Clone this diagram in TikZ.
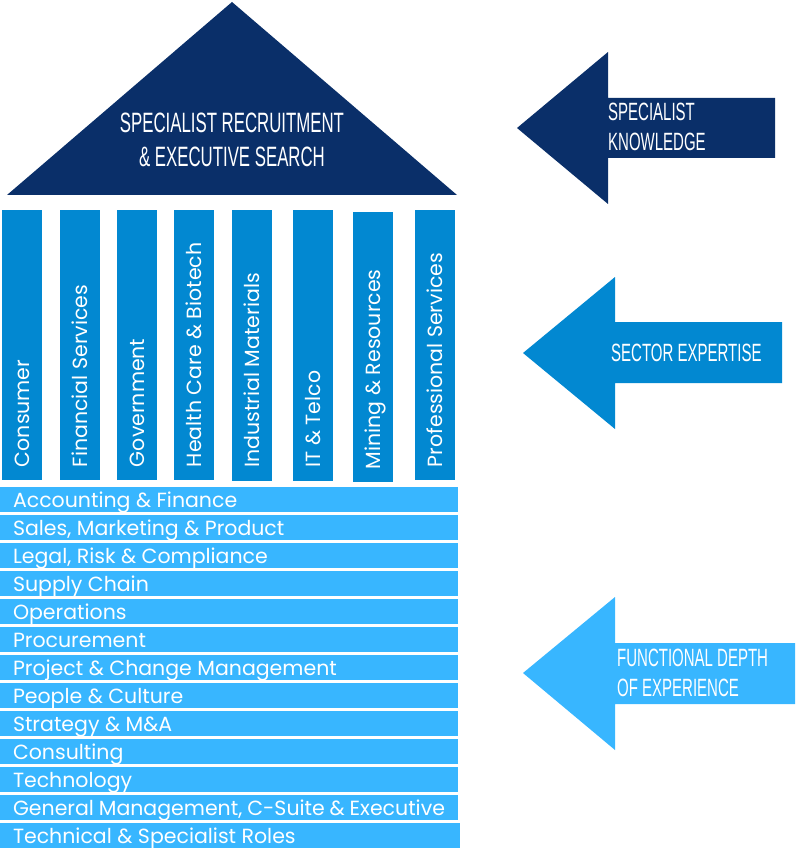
\documentclass[tikz,border=0pt]{standalone}
\usepackage{fontspec}
\setmainfont{Poppins}
\newfontfamily\condfont[FakeStretch=0.6]{Liberation Sans}
\definecolor{navy}{HTML}{0A2F69}
\definecolor{sectorblue}{HTML}{0288D1}
\definecolor{skyblue}{HTML}{38B6FF}
\begin{document}
\begin{tikzpicture}[x=1pt,y=-1pt,
roof_style/.style={fill=navy},
pillar_style/.style={fill=sectorblue,text=white,rotate=90,inner sep=0pt,inner xsep=13pt,minimum width=270pt,minimum height=40pt,text width=244pt,text height=19pt,text depth=4pt,align=flush left,font=\fontsize{20.5}{24}\selectfont},
row_style/.style={fill=skyblue,text=white,inner sep=0pt,inner xsep=13pt,minimum width=458pt,minimum height=25pt,text width=432pt,text height=19pt,text depth=4pt,align=flush left,font=\fontsize{20.5}{24}\selectfont},
head_style/.style={text=white,inner sep=0pt,align=left,font=\condfont\fontsize{25}{30}\selectfont}]
\useasboundingbox (0,0) rectangle (795,850);

% roof
\fill[roof_style] (7,195) -- (232,2) -- (457,195) -- cycle;
\node[head_style,align=center,font=\condfont\fontsize{28}{34}\selectfont] (roof) at (232,140) {SPECIALIST RECRUITMENT\\\& EXECUTIVE SEARCH};

% pillars
\node[pillar_style] (p1) at (21.5,345) {Consumer};
\node[pillar_style] (p2) at (80,345) {Financial Services};
\node[pillar_style] (p3) at (137,345) {Government};
\node[pillar_style] (p4) at (194,345) {Health Care \& Biotech};
\node[pillar_style] (p5) at (251.5,345.5) {Industrial Materials};
\node[pillar_style] (p6) at (313,345.5) {IT \& Telco};
\node[pillar_style] (p7) at (373,347) {Mining \& Resources};
\node[pillar_style] (p8) at (434.5,345) {Professional Services};

% rows
\node[row_style] (r1) at (229,499.5) {Accounting \& Finance};
\node[row_style] (r2) at (229,527.5) {Sales, Marketing \& Product};
\node[row_style] (r3) at (229,555.5) {Legal, Risk \& Compliance};
\node[row_style] (r4) at (229,583.5) {Supply Chain};
\node[row_style] (r5) at (229,611.5) {Operations};
\node[row_style] (r6) at (229,639.5) {Procurement};
\node[row_style] (r7) at (229,667.5) {Project \& Change Management};
\node[row_style] (r8) at (229,695.5) {People \& Culture};
\node[row_style] (r9) at (229,723.5) {Strategy \& M\&A};
\node[row_style] (r10) at (229,751.5) {Consulting};
\node[row_style] (r11) at (229,779.5) {Technology};
\node[row_style] (r12) at (229,807.5) {General Management, C-Suite \& Executive};
\node[row_style,minimum width=460pt,text width=434pt] (r13) at (230,835.5) {Technical \& Specialist Roles};

% arrows
\fill[navy] (517,128) -- (608,52) -- (608,98) -- (775,98) -- (775,158) -- (608,158) -- (608,204) -- cycle;
\node[head_style,anchor=west] (a1) at (608,127) {SPECIALIST\\KNOWLEDGE};
\fill[sectorblue] (523,353) -- (615,277) -- (615,322) -- (782,322) -- (782,383) -- (615,383) -- (615,429) -- cycle;
\node[head_style,anchor=west] (a2) at (611,353) {SECTOR EXPERTISE};
\fill[skyblue] (523,673) -- (615,597) -- (615,643) -- (795,643) -- (795,704) -- (615,704) -- (615,750) -- cycle;
\node[head_style,anchor=west] (a3) at (617,673) {FUNCTIONAL DEPTH\\OF EXPERIENCE};
\end{tikzpicture}
\end{document}
